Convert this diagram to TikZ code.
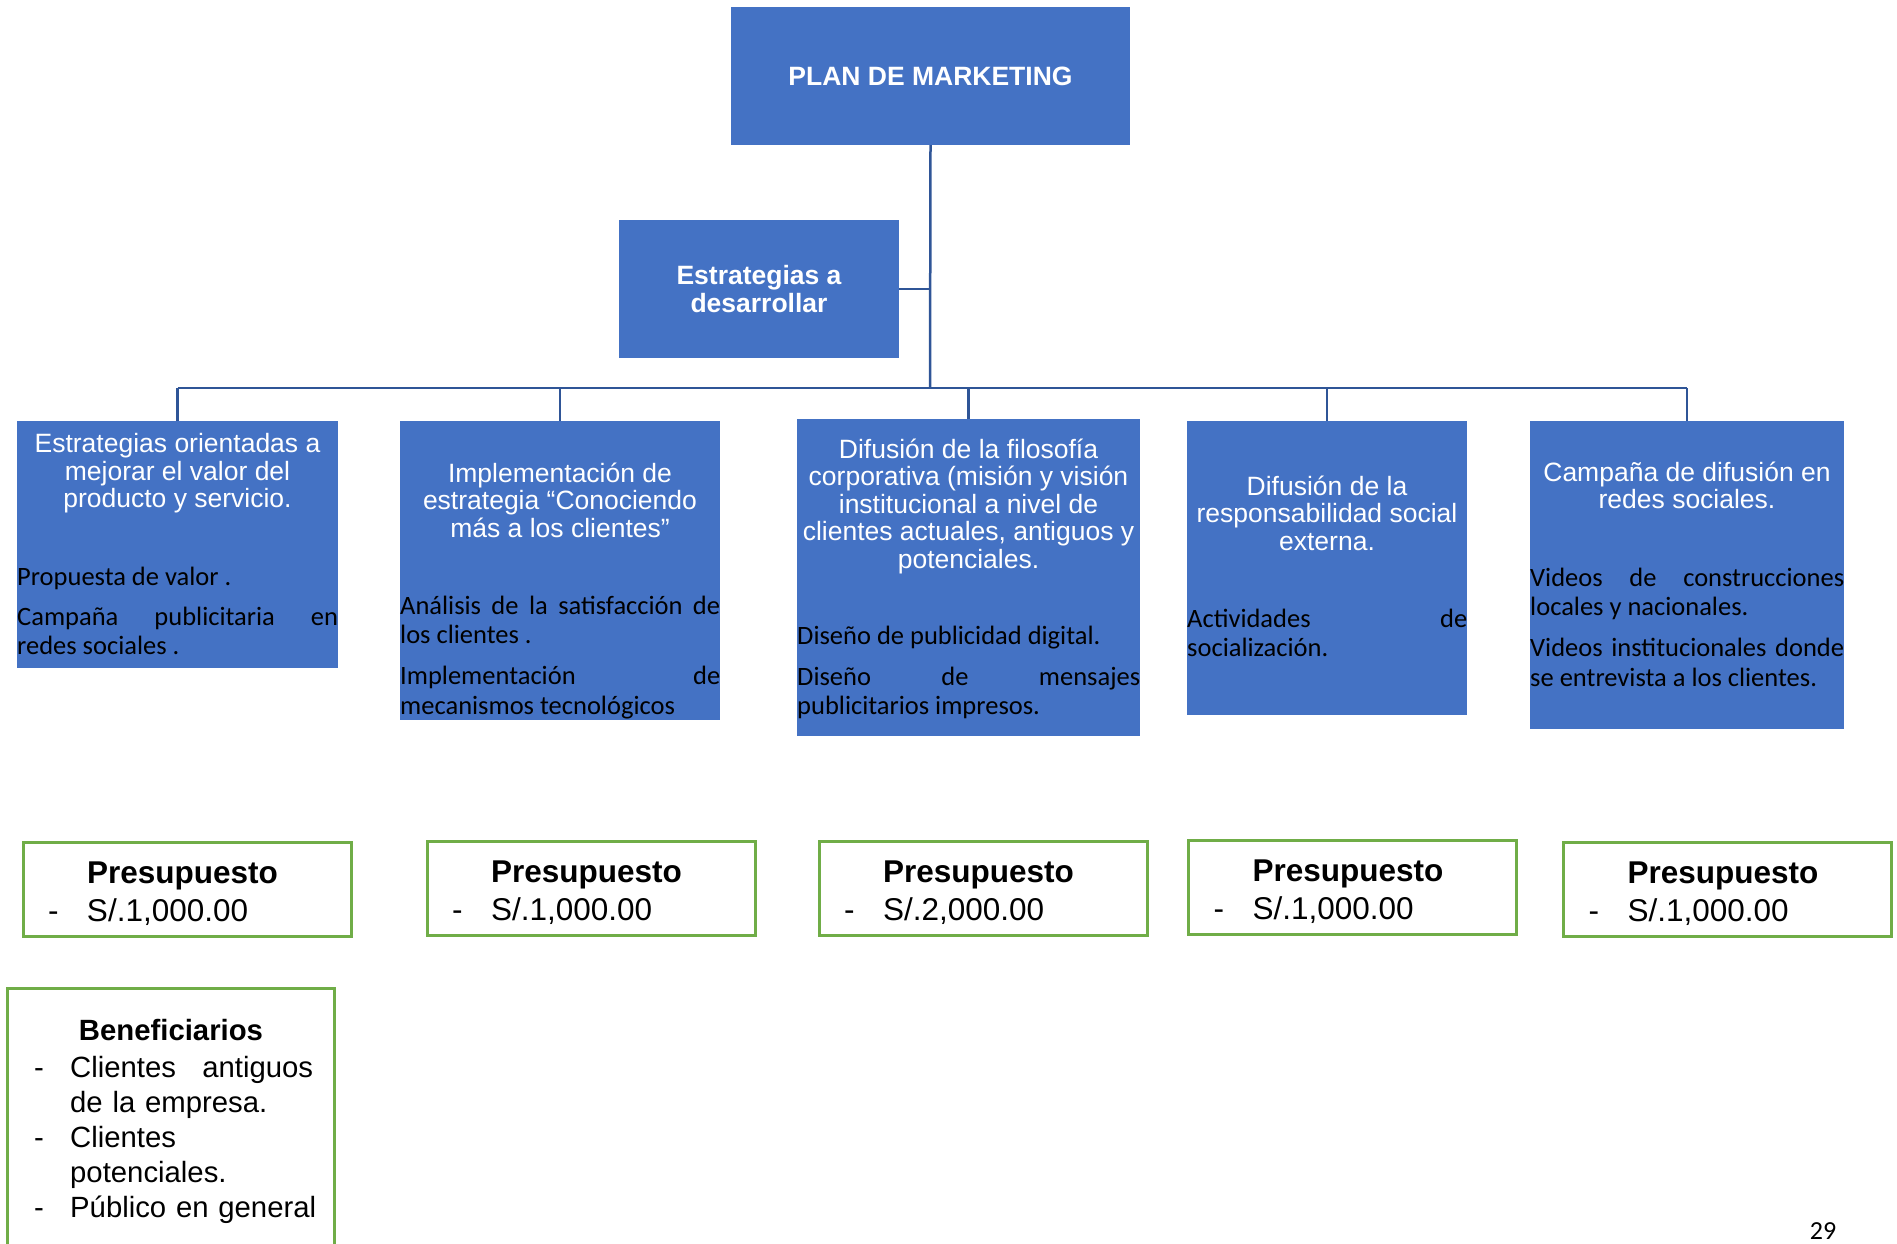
\documentclass[tikz,border=0pt]{standalone}
\usepackage{fontspec}
\setmainfont{Liberation Sans}
\newfontfamily\calibri{Carlito}
\definecolor{azulcaja}{HTML}{4472C4}
\definecolor{azullinea}{HTML}{2F5597}
\definecolor{verdeborde}{HTML}{70AD47}
\tikzset{
  caja/.style={fill=azulcaja, inner sep=0pt},
  encabezado/.style={text=white, align=center, inner sep=0pt, anchor=north, font=\fontsize{26.5}{27.5}\selectfont},
  detalle/.style={text=black, align=justify, inner sep=0pt, anchor=north west, font=\calibri\fontsize{26.5}{29.5}\selectfont},
  monto/.style={draw=verdeborde, line width=3pt, fill=white, minimum width=328pt, minimum height=94pt, text width=278pt, inner xsep=25pt, inner ysep=0pt, align=left, font=\fontsize{31.5}{38}\selectfont},
  linea/.style={draw=azullinea, line width=2.5pt}
}
\newcommand{\presup}[1]{\rule{0pt}{30pt}\hspace*{39pt}\textbf{Presupuesto}\\\makebox[39pt][l]{-}#1}
\begin{document}
\begin{tikzpicture}[x=1pt,y=-1pt]
	\path[use as bounding box] (0,0) rectangle (1897,1243);
	
	% cabecera
	\node[caja, minimum width=399pt, minimum height=138pt, text=white, font=\bfseries\fontsize{26.5}{28}\selectfont] (plan) at (930.5,76) {PLAN DE MARKETING};
	\node[caja, minimum width=280pt, minimum height=138pt, text=white, align=center, font=\bfseries\fontsize{26.5}{27.5}\selectfont] (estr) at (759,289) {Estrategias a\\desarrollar};
	
	% estrategias
	\node[caja, minimum width=321pt, minimum height=247pt] (b1) at (177.5,544.5) {};
	\node[caja, minimum width=320pt, minimum height=299pt] (b2) at (560,570.5) {};
	\node[caja, minimum width=343pt, minimum height=317pt] (b3) at (968.5,577.5) {};
	\node[caja, minimum width=280pt, minimum height=294pt] (b4) at (1327,568) {};
	\node[caja, minimum width=314pt, minimum height=308pt] (b5) at (1687,575) {};
	
	\node[encabezado] (b1h) at (177.5,433.5) {Estrategias orientadas a\\mejorar el valor del\\producto y servicio.};
	\node[encabezado] (b2h) at (560,462.5) {Implementación de\\estrategia “Conociendo\\más a los clientes”};
	\node[encabezado] (b3h) at (968.5,438.5) {Difusión de la filosofía\\corporativa (misión y visión\\institucional a nivel de\\clientes actuales, antiguos y\\potenciales.};
	\node[encabezado] (b4h) at (1327,475.5) {Difusión de la\\responsabilidad social\\externa.};
	\node[encabezado] (b5h) at (1687,461.5) {Campaña de difusión en\\redes sociales.};
	
	\node[detalle, text width=321pt] (b1t) at (17,566.5) {Propuesta de valor .\\[10.5pt]Campaña\hfill publicitaria\hfill en\\redes sociales .};
	\node[detalle, text width=320pt] (b2t) at (400,595.5) {Análisis\hfill de\hfill la\hfill satisfacción\hfill de\\los clientes .\\[11.5pt]Implementación\hfill de\\mecanismos tecnológicos};
	\node[detalle, text width=343pt] (b3t) at (797,625.5) {Diseño de publicidad digital.\\[11.5pt]Diseño\hfill de\hfill mensajes\\publicitarios impresos.};
	\node[detalle, text width=280pt] (b4t) at (1187,608.5) {Actividades\hfill de\\socialización.};
	\node[detalle, text width=314pt] (b5t) at (1530,567.5) {Videos\hfill de\hfill construcciones\\locales y nacionales.\\[11.5pt]Videos\hfill institucionales\hfill donde\\se entrevista a los clientes.};
	
	% conectores
	\coordinate (bus) at (930,388);
	\draw[linea] (plan.south) -- (bus);
	\draw[linea] (estr.east) -- (estr.east -| bus);
	\draw[linea] (b1.north |- bus) -- (b5.north |- bus);
	\foreach \n in {b1,b2,b3,b4,b5}
		\draw[linea] (\n.north |- bus) -- (\n.north);
	
	% presupuestos
	\node[monto] (p1) at (187,889) {\presup{S/.1,000.00}};
	\node[monto] (p2) at (591,888.5) {\presup{S/.1,000.00}};
	\node[monto] (p3) at (983,888.5) {\presup{S/.2,000.00}};
	\node[monto] (p4) at (1352.5,887.5) {\presup{S/.1,000.00}};
	\node[monto] (p5) at (1727.5,889) {\presup{S/.1,000.00}};
	
	% beneficiarios
	\node[draw=verdeborde, line width=3pt, minimum width=327pt, minimum height=260pt, inner sep=0pt] (benef) at (170.5,1118) {};
	\node[inner sep=0pt, font=\bfseries\fontsize{29.3}{34.8}\selectfont] (beneft) at (171,1030) {Beneficiarios};
	\node[inner sep=0pt, anchor=north west, text width=279pt, align=left, font=\fontsize{29.3}{34.8}\selectfont] (benefl) at (34,1056.5) {\makebox[36pt][l]{-}Clientes\hfill antiguos\\\hspace*{36pt}de la empresa.\\\makebox[36pt][l]{-}Clientes\\\hspace*{36pt}potenciales.\\\makebox[36pt][l]{-}\mbox{Público en general}};
	
	\node[inner sep=0pt, font=\calibri\fontsize{26}{30}\selectfont] (pagina) at (1823,1231) {29};
\end{tikzpicture}
\end{document}
